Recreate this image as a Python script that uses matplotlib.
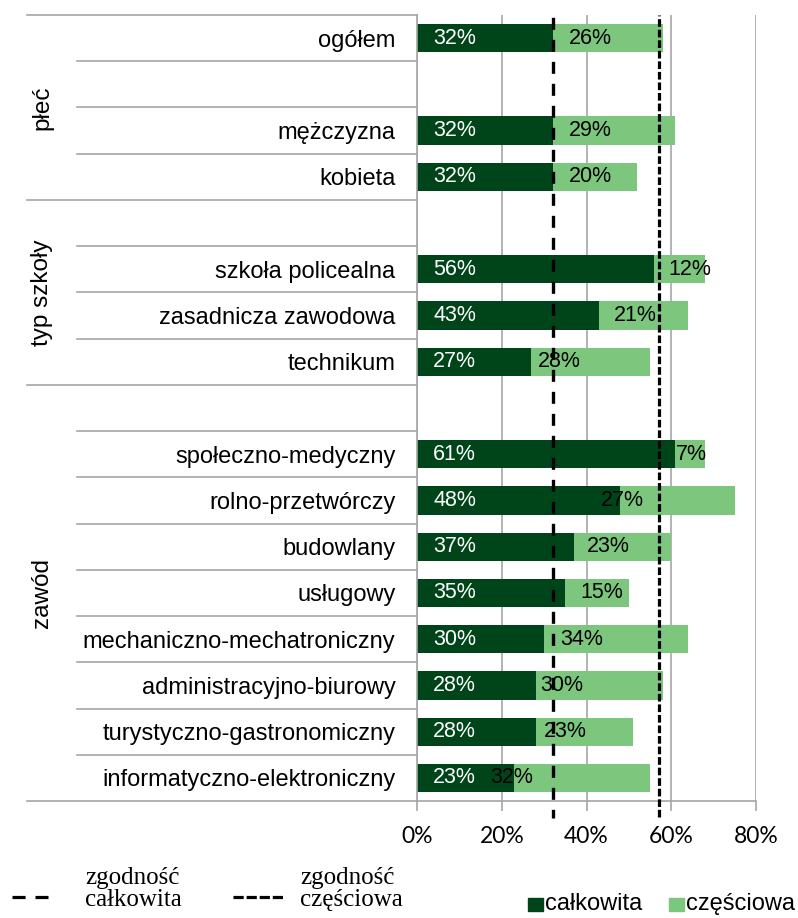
import matplotlib
matplotlib.use('Agg')
import matplotlib.pyplot as plt
from matplotlib.lines import Line2D
from matplotlib.patches import Rectangle

plt.rcParams['font.family'] = 'Liberation Sans'

# data
categories = ['ogółem', '', 'mężczyzna', 'kobieta', '',
              'szkoła policealna', 'zasadnicza zawodowa', 'technikum', '',
              'społeczno-medyczny', 'rolno-przetwórczy', 'budowlany', 'usługowy',
              'mechaniczno-mechatroniczny', 'administracyjno-biurowy',
              'turystyczno-gastronomiczny', 'informatyczno-elektroniczny']
full = [32, 0, 32, 32, 0, 56, 43, 27, 0, 61, 48, 37, 35, 30, 28, 28, 23]
partial = [26, 0, 29, 20, 0, 12, 21, 28, 0, 7, 27, 23, 15, 34, 30, 23, 32]
groups = ['płeć', 'typ szkoły', 'zawód']
group_bounds = [(-0.5, 3.5), (3.5, 7.5), (7.5, 16.5)]
ref_full = 32  # zgodność całkowita
ref_partial = 57  # zgodność częściowa
x_ticks = [0, 20, 40, 60, 80]

# where the partial labels sit (in % units, as in the original)
partial_label_x = [41, None, 41, 41, None, 64.3, 51.6, 33.6, None,
                   64.7, 48.5, 45.2, 43.5, 38.8, 34.1, 35.1, 22.4]

dark = '#00451A'
light = '#7DC67E'
grey = '#A6A6A6'

fig = plt.figure(figsize=(7.98, 9.18), dpi=100)
ax = fig.add_axes([417/798, 1-801/918, 339/798, 786/918])

y = list(range(len(categories)))
ax.barh(y, full, height=0.61, color=dark, zorder=2)
ax.barh(y, partial, left=full, height=0.61, color=light, zorder=2)

for i in y:
    if categories[i] == '':
        continue
    ax.text(3.8, i, f'{full[i]}%', color='white', fontsize=15.5,
            ha='left', va='center', zorder=4)
    ax.text(partial_label_x[i], i, f'{partial[i]}%', color='black', fontsize=15.5,
            ha='center', va='center', zorder=4)

ax.axvline(ref_full, ymin=-0.021, ymax=1, color='black', lw=2.4,
           linestyle=(1, (3.6, 3.0)), clip_on=False, zorder=3)
ax.axvline(ref_partial, ymin=-0.02, ymax=1, color='black', lw=2.3,
           linestyle=(0, (2.4, 0.9)), clip_on=False, zorder=3)

ax.set_xlim(0, 80)
ax.set_ylim(16.5, -0.5)
ax.set_xticks(x_ticks)
ax.set_xticklabels([f'{t}%' for t in x_ticks], fontfamily='Lato', fontsize=16.5)
ax.xaxis.grid(True, color=grey, lw=1.2, zorder=0)
ax.tick_params(axis='x', length=7, color=grey, width=1.2, pad=11)

ax.set_yticks(y)
ax.set_yticklabels(categories, fontsize=17)
ax.tick_params(axis='y', length=0, pad=15.5)

for s in ['top', 'right']:
    ax.spines[s].set_visible(False)
for s in ['left', 'bottom']:
    ax.spines[s].set_color(grey)
    ax.spines[s].set_linewidth(1.2)

# separator lines in the label area
ytr = ax.get_yaxis_transform()
long_lines = [b for pair in group_bounds for b in pair]
for b in [k + 0.5 for k in range(-1, 17)]:
    x0 = -1.15 if b in long_lines else -1.003
    ax.plot([x0, 0], [b, b], color=grey, lw=1.2, transform=ytr, clip_on=False)

for name, (a, b) in zip(groups, group_bounds):
    ax.text(-1.106, (a + b) / 2, name, rotation=90, fontsize=17.5,
            ha='center', va='center', transform=ytr)

# legend, bottom left (reference lines)
fig.add_artist(Line2D([12/798, 48/798], [1-897/918, 1-897/918], color='black',
                      lw=2.3, linestyle=(0, (4.1, 3.1))))
fig.text(85/798, 1-889/918, 'zgodność\ncałkowita', fontfamily='Liberation Serif',
         fontsize=18, ha='left', va='center', linespacing=1.0)
fig.add_artist(Line2D([233/798, 284/798], [1-897/918, 1-897/918], color='black',
                      lw=2.3, linestyle=(0, (3.2, 0.9))))
fig.text(300/798, 1-889/918, 'zgodność\nczęściowa', fontfamily='Liberation Serif',
         fontsize=18, ha='left', va='center', linespacing=1.0)

# legend, bottom right (series)
fig.add_artist(Rectangle((528/798, 1-911/918), 15/798, 13/918, color=dark))
fig.text(545/798, 1-904/918, 'całkowita', fontsize=17, ha='left', va='center')
fig.add_artist(Rectangle((669/798, 1-911/918), 15/798, 13/918, color=light))
fig.text(686/798, 1-904/918, 'częściowa', fontsize=17, ha='left', va='center')

fig.savefig('out.png', dpi=100)
